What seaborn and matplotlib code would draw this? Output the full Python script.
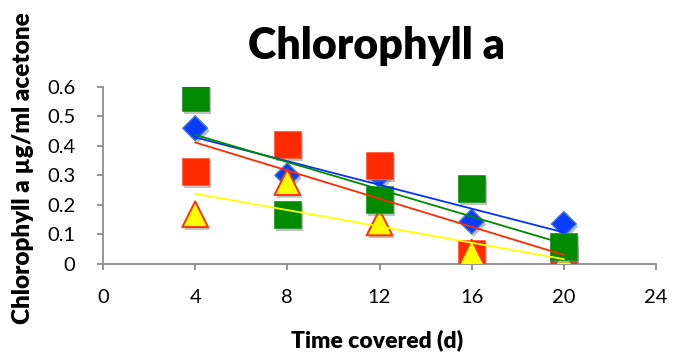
import numpy as np
import pandas as pd
import seaborn as sns
import matplotlib
matplotlib.use("Agg")
import matplotlib.pyplot as plt
import matplotlib.patheffects as pe
from matplotlib.ticker import FuncFormatter

days = [4, 8, 12, 16, 20]
blue_vals = [0.46, 0.30, 0.30, 0.143, 0.135]
red_vals = [0.313, 0.404, 0.332, 0.035, 0.02]
yellow_vals = [0.168, 0.277, 0.14, 0.038, 0.01]
green_vals = [0.565, 0.166, 0.219, 0.255, 0.058]

x_ticks = [0, 4, 8, 12, 16, 20, 24]
y_ticks = [0, 0.1, 0.2, 0.3, 0.4, 0.5, 0.6]

title = "Chlorophyll a"
xlabel = "Time covered (d)"
ylabel = "Chlorophyll a µg/ml acetone"

sns.set_theme(style="white")
plt.rcParams["font.family"] = ["Lato", "DejaVu Sans"]
plt.rcParams["text.color"] = "black"

fig = plt.figure(figsize=(6.74, 3.53), dpi=100)
ax = fig.add_axes([103/674, 1 - 263.7/353, (656 - 103)/674, (263.7 - 87)/353])

shadow = [pe.SimplePatchShadow(offset=(1.5, -2), shadow_rgbFace="#777777", alpha=0.45), pe.Normal()]

series = [
    ("blue", blue_vals, "D", 12.7, "#0a3cff", "#4f7fc8", 1.0),
    ("red", red_vals, "s", 19.5, "#ff2a00", "#ff6040", 0.6),
    ("yellow", yellow_vals, "^", 18.5, "#ffff00", "#ff3300", 1.4),
    ("green", green_vals, "s", 19.5, "#008a00", "#2e9a2e", 0.6),
]

for i, (name, vals, mk, ms, fc, ec, lw) in enumerate(series):
    df = pd.DataFrame({"x": days, "y": vals})
    sc = sns.scatterplot(data=df, x="x", y="y", marker=mk, s=ms**2, color=fc,
                         edgecolor=ec, linewidth=lw, ax=ax, zorder=3 + i, legend=False)
    sc.collections[-1].set_path_effects(shadow)

line_colors = {"blue": "#0033ff", "green": "#008a00", "red": "#ff2a00", "yellow": "#ffff00"}
for name, vals in [("blue", blue_vals), ("green", green_vals), ("red", red_vals), ("yellow", yellow_vals)]:
    df = pd.DataFrame({"x": days, "y": vals})
    sns.regplot(data=df, x="x", y="y", scatter=False, ci=None, ax=ax, truncate=True,
                line_kws={"color": line_colors[name], "lw": 1.3, "zorder": 10})

ax.set_xlim(0, 24)
ax.set_ylim(0, 0.6)
ax.set_xticks(x_ticks)
ax.set_yticks(y_ticks)
ax.yaxis.set_major_formatter(FuncFormatter(lambda v, p: "0" if abs(v) < 1e-9 else f"{v:.1f}"))
ax.set_xlabel("")
ax.set_ylabel("")

for s in ["top", "right"]:
    ax.spines[s].set_visible(False)
for s in ["left", "bottom"]:
    ax.spines[s].set_color("#8c8c8c")
    ax.spines[s].set_linewidth(1.3)
ax.tick_params(axis="both", which="major", direction="out", length=4, width=1.3,
               color="#8c8c8c", labelsize=14.5, labelcolor="black")
ax.tick_params(axis="x", pad=14)
ax.tick_params(axis="y", pad=16)
ax.tick_params(left=True, bottom=True)
ax.set_facecolor("white")

fig.text(376/674, 1 - 46/353, title, ha="center", va="center", fontsize=31, fontweight="heavy", color="black")
fig.text(377/674, 1 - 340/353, xlabel, ha="center", va="center", fontsize=16.5, fontweight="heavy", color="black")
fig.text(23/674, 1 - 168/353, ylabel, ha="center", va="center", rotation=90, fontsize=17.5, fontweight="heavy", color="black")

fig.savefig("out.png", dpi=100, facecolor="white")
